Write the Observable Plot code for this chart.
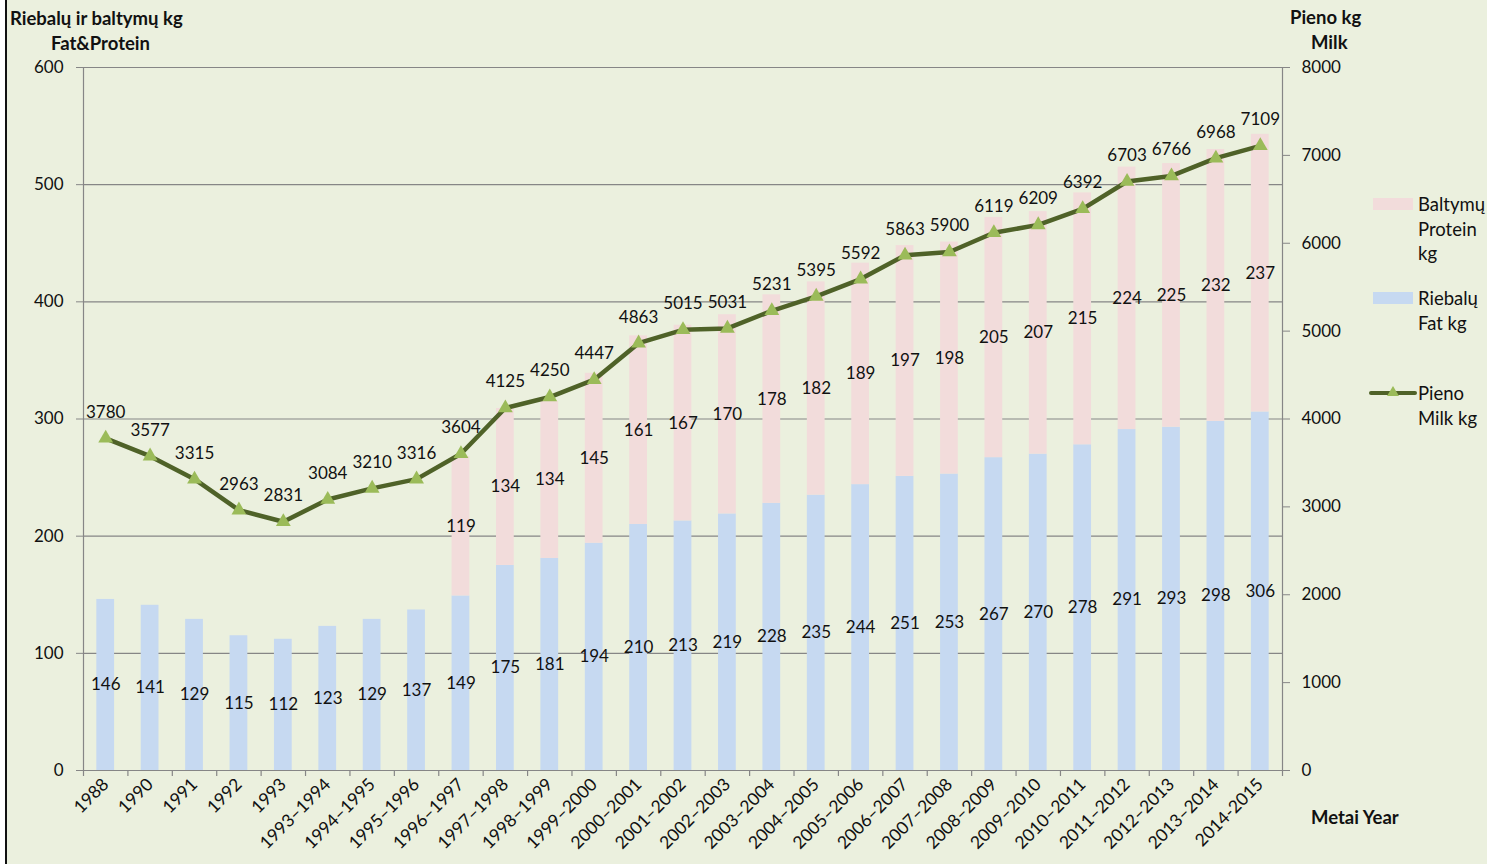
<!DOCTYPE html>
<html>
<head>
<meta charset="utf-8">
<script src="https://cdn.jsdelivr.net/npm/d3@7"></script>
<script src="https://cdn.jsdelivr.net/npm/@observablehq/plot@0.6"></script>
<style>
  html, body { margin: 0; padding: 0; }
  body { width: 1487px; height: 864px; background: #ebf0de; position: relative; overflow: hidden; font-family: Lato, "Open Sans", sans-serif; color: #111; }
  #edge { position: absolute; left: 0; top: 0; width: 5px; height: 864px; background: #fff; border-right: 2px solid #111; }
  #chart { position: absolute; left: 0; top: 0; }
  .t { position: absolute; font-weight: bold; font-size: 18.5px; line-height: 22px; white-space: nowrap; }
  .lg { position: absolute; font-size: 18.5px; line-height: 24.5px; white-space: nowrap; }
  .sw { position: absolute; width: 40px; height: 12px; }
</style>
</head>
<body>
<div id="edge"></div>
<div id="chart"></div>
<div class="t" style="left:10px; top:7px;">Riebalų ir baltymų kg</div>
<div class="t" style="left:51px; top:32px;">Fat&amp;Protein</div>
<div class="t" style="left:1290px; top:6px;">Pieno kg</div>
<div class="t" style="left:1311px; top:31px;">Milk</div>
<div class="t" style="left:1311px; top:806px;">Metai Year</div>

<div class="sw" style="left:1373px; top:198px; background:#f2dcdb;"></div>
<div class="lg" style="left:1418px; top:192px;">Baltymų<br>Protein<br>kg</div>
<div class="sw" style="left:1373px; top:292px; background:#c6d9f1;"></div>
<div class="lg" style="left:1418px; top:286px;">Riebalų<br>Fat kg</div>
<svg style="position:absolute; left:1368px; top:382px;" width="50" height="22">
  <line x1="3" y1="11" x2="47" y2="11" stroke="#4f6228" stroke-width="4" stroke-linecap="round"/>
  <path d="M25,4 L31,14 L19,14 Z" fill="#9bbb59"/>
</svg>
<div class="lg" style="left:1418px; top:381px;">Pieno<br>Milk kg</div>

<script>
const years = ["1988","1990","1991","1992","1993","1993–1994","1994–1995","1995–1996","1996–1997","1997–1998","1998–1999","1999–2000","2000–2001","2001–2002","2002–2003","2003–2004","2004–2005","2005–2006","2006–2007","2007–2008","2008–2009","2009–2010","2010–2011","2011–2012","2012–2013","2013–2014","2014-2015"];
const fat = [146,141,129,115,112,123,129,137,149,175,181,194,210,213,219,228,235,244,251,253,267,270,278,291,293,298,306];
const protein = [null,null,null,null,null,null,null,null,119,134,134,145,161,167,170,178,182,189,197,198,205,207,215,224,225,232,237];
const milk = [3780,3577,3315,2963,2831,3084,3210,3316,3604,4125,4250,4447,4863,5015,5031,5231,5395,5592,5863,5900,6119,6209,6392,6703,6766,6968,7109];
const leftTicks = [0,100,200,300,400,500,600];
const rightTicks = [0,1000,2000,3000,4000,5000,6000,7000,8000];

const k = 600 / 8000; // milk -> left scale
const rows = years.map((y, i) => ({year: y, fat: fat[i], protein: protein[i], milk: milk[i]}));
const prot = rows.filter(d => d.protein != null);

const W = 1487, H = 864, mL = 83, mR = 205, mT = 67, mB = 94;
const step = (W - mL - mR) / years.length;
const gray = "#868686";
const txt = "#111";
const fs = 17;
const tick = 6 * 600 / 703;

const chart = Plot.plot({
  width: W, height: H,
  marginLeft: mL, marginRight: mR, marginTop: mT, marginBottom: mB,
  style: {background: "transparent", fontFamily: "Lato, 'Open Sans', sans-serif", color: txt},
  x: {domain: years, type: "band", paddingInner: 0.6, paddingOuter: 0.3, round: false, axis: null},
  y: {domain: [0, 600], axis: null},
  marks: [
    Plot.ruleY(leftTicks, {y: d => d, stroke: gray, strokeWidth: 1.2}),
    Plot.ruleX([years[0]], {x: d => d, y1: 0, y2: 600, dx: -step / 2, stroke: gray, strokeWidth: 1.2}),
    Plot.ruleX([years[years.length - 1]], {x: d => d, y1: 0, y2: 600, dx: step / 2, stroke: gray, strokeWidth: 1.2}),
    Plot.ruleX(years, {x: d => d, y1: 0, y2: -tick, dx: step / 2, stroke: gray, strokeWidth: 1.2}),
    Plot.ruleX([years[0]], {x: d => d, y1: 0, y2: -tick, dx: -step / 2, stroke: gray, strokeWidth: 1.2}),
    Plot.axisY(leftTicks, {anchor: "left", label: null, tickSize: 7, tickPadding: 13, fontSize: fs, stroke: gray, color: txt}),
    Plot.axisY(rightTicks.map(v => v * k), {anchor: "right", label: null, tickSize: 7, tickPadding: 12, fontSize: fs, stroke: gray, tickFormat: d => String(Math.round(d / k))}),
    Plot.axisX(years, {tickSize: 0, tickRotate: -45, tickPadding: 11, fontSize: 17.5, label: null}),
    Plot.barY(rows, {x: "year", y1: 0, y2: "fat", fill: "#c6d9f1"}),
    Plot.barY(prot, {x: "year", y1: "fat", y2: d => d.fat + d.protein, fill: "#f2dcdb"}),
    Plot.text(rows, {x: "year", y: d => d.fat / 2, text: d => String(d.fat), fontSize: fs, fill: txt}),
    Plot.text(prot, {x: "year", y: d => d.fat + d.protein / 2, text: d => String(d.protein), fontSize: fs, fill: txt}),
    Plot.line(rows, {x: "year", y: d => d.milk * k, stroke: "#4f6228", strokeWidth: 4.5}),
    Plot.dot(rows, {x: "year", y: d => d.milk * k, symbol: "triangle", r: 5.5, fill: "#9bbb59"}),
    Plot.text(rows, {x: "year", y: d => d.milk * k, dy: -26, text: d => String(d.milk), fontSize: fs, fill: txt})
  ]
});
document.getElementById("chart").append(chart);
</script>
</body>
</html>
